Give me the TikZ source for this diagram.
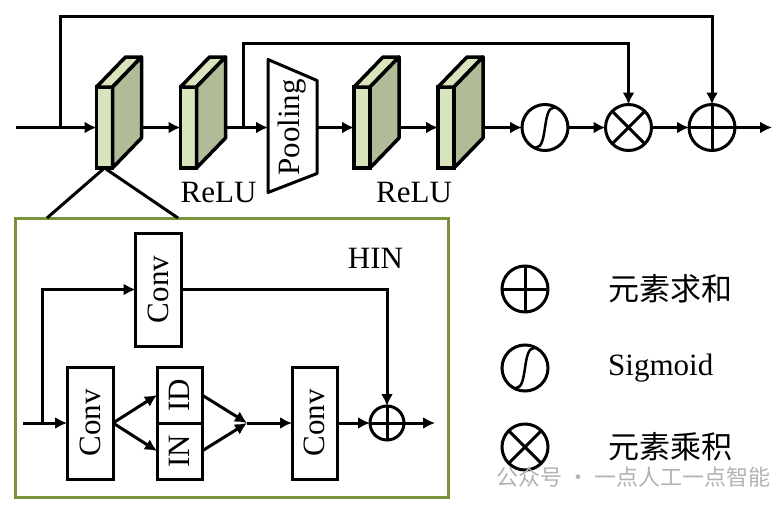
\documentclass[tikz,border=0pt]{standalone}
\usepackage{fontspec}
\setmainfont{Liberation Serif}
\newfontfamily\cjk{Noto Sans CJK SC}
\usepackage{tikz}
\usetikzlibrary{arrows.meta, calc}
\definecolor{frontgreen}{HTML}{D8E4BC}
\definecolor{sidegreen}{HTML}{B0BB98}
\definecolor{hingreen}{HTML}{77933C}
\tikzstyle{line} = [draw, line width=3pt, ->]

% Quader: Vorderseite als Knoten, Deckel und Seite dahinter
\newcommand{\slab}[2]{%
  \node[slabfront] (#1) at (#2,127.5) {};
  \filldraw[slabedge, fill=frontgreen] (#1.north west) -- ++(29,-30) -- ++(16,0) -- (#1.north east) -- cycle;
  \filldraw[slabedge, fill=sidegreen] (#1.north east) -- ++(29,-30) -- ++(0,81) -- (#1.south east) -- cycle;
}

\begin{document}
\begin{tikzpicture}[x=1pt, y=-1pt, >={Latex[length=12pt,width=12pt]}, %Voreinstellung
    font=\fontsize{31}{36}\selectfont,
    slabfront/.style={draw, line width=3.5pt, fill=frontgreen, minimum width=16pt, minimum height=81pt, inner sep=0pt, outer sep=0pt},
    slabedge/.style={line width=3.5pt, line join=round},
    box/.style={draw, line width=3pt, fill=white, inner sep=0pt, outer sep=0pt, minimum width=46pt},
    op/.style={draw, circle, line width=3pt, inner sep=0pt, outer sep=0pt, minimum size=#1},
    addop/.style={op=#1, path picture={\draw[line width=3pt] (path picture bounding box.north) -- (path picture bounding box.south) (path picture bounding box.west) -- (path picture bounding box.east);}},
    addop/.default=46pt,
    mulop/.style={op=46pt, path picture={\draw[line width=3pt] (path picture bounding box.north west) -- (path picture bounding box.south east) (path picture bounding box.south west) -- (path picture bounding box.north east);}},
    sigop/.style={op=46pt, path picture={\draw[line width=2.5pt] ($(path picture bounding box.center)+(-24,20)$) -- ($(path picture bounding box.center)+(-9,20)$) .. controls +(12,0) and +(-12,0) .. ($(path picture bounding box.center)+(9,-20)$) -- ($(path picture bounding box.center)+(24,-20)$);}}]
  \useasboundingbox (0,0) rectangle (782,506);
  % Hauptpfad
  \coordinate (in) at (16,127.5);
  \slab{b1}{104.5}
  \slab{b2}{188.5}
  \node[inner sep=0pt, outer sep=0pt, minimum width=49pt] (pool) at (292.5,127.5) {\rotatebox{90}{Pooling}};
  \draw[line width=3pt, line join=round] ($(pool.center)+(-24.5,-68)$) -- ($(pool.center)+(24.5,-47)$) -- ($(pool.center)+(24.5,46)$) -- ($(pool.center)+(-24.5,65)$) -- cycle;
  \slab{b3}{362}
  \slab{b4}{446}
  \node[sigop] (sig) at (545,127.5) {};
  \node[mulop] (mul) at (628.5,127.5) {};
  \node[addop] (add) at (712,127.5) {};
  \coordinate (out) at (772,127.5);
  \coordinate (t1) at (60,127.5);
  \coordinate (t2) at (243,127.5);
  \draw[line] (in) -- (b1.west);
  \draw[line] ($(b1.east)+(29,0)$) -- (b2.west);
  \draw[line] ($(b2.east)+(29,0)$) -- (pool.west);
  \draw[line] (pool.east) -- (b3.west);
  \draw[line] ($(b3.east)+(29,0)$) -- (b4.west);
  \draw[line] ($(b4.east)+(29,0)$) -- (sig.west);
  \draw[line] (sig.east) -- (mul.west);
  \draw[line] (mul.east) -- (add.west);
  \draw[line] (add.east) -- (out);
  % Rueckfuehrungen
  \draw[line] (t1) -- ++(0,-111.5) -| (add.north);
  \draw[line] (t2) -- ++(0,-84.5) -| (mul.north);
  \node (relu1) at (218.5,192) {ReLU};
  \node (relu2) at (414,192) {ReLU};
  % HIN-Block
  \node[draw=hingreen, line width=3pt, minimum width=433pt, minimum height=279pt, inner sep=0pt, outer sep=0pt, anchor=north west] (hin) at (15,218) {};
  \draw[line width=3pt] (b1.south) -- ($(hin.north west)+(32,0)$);
  \draw[line width=3pt] (b1.south) -- ($(hin.north west)+(163,0)$);
  \node (hintitle) at (375.5,258) {HIN};
  \node[box, minimum height=113pt] (conv0) at (158.5,289.5) {\rotatebox{90}{Conv}};
  \node[box, minimum height=112pt] (conv1) at (90,423) {\rotatebox{90}{Conv}};
  \node[box, minimum width=45pt, minimum height=56pt] (idb) at (179.5,395) {\rotatebox{90}{ID}};
  \node[box, minimum width=45pt, minimum height=56pt] (inb) at (179.5,451) {\rotatebox{90}{IN}};
  \node[box, minimum width=45pt, minimum height=112pt] (conv2) at (314.5,423) {\rotatebox{90}{Conv}};
  \node[addop=34pt] (hadd) at (387,423) {};
  \coordinate (hinin) at (23,423);
  \coordinate (split) at (42,423);
  \coordinate (merge) at (247,423);
  \coordinate (hinout) at (435,423);
  \draw[line] (hinin) -- (conv1.west);
  \draw[line] (split) |- (conv0.west);
  \draw[line] (conv0.east) -| (hadd.north);
  \draw[line] (conv1.east) -- (idb.west);
  \draw[line] (conv1.east) -- (inb.west);
  \draw[line] (idb.east) -- (merge);
  \draw[line] (inb.east) -- (merge);
  \draw[line] (merge) -- (conv2.west);
  \draw[line] (conv2.east) -- (hadd.west);
  \draw[line] (hadd.east) -- (hinout);
  % Legende
  \node[addop] (legadd) at (525,289) {};
  \node[sigop] (legsig) at (525,368) {};
  \node[mulop] (legmul) at (525,447) {};
  \node[anchor=west, inner sep=0pt] (txtadd) at (608,289) {\cjk 元素求和};
  \node[anchor=west, inner sep=0pt] (txtsig) at (608,368) {Sigmoid};
  \node[anchor=west, inner sep=0pt] (txtmul) at (608,447) {\cjk 元素乘积};
  \node[anchor=west, inner sep=0pt, text=gray!60, font=\cjk\fontsize{22}{26}\selectfont] (wm) at (496,477) {公众号 · 一点人工一点智能};
\end{tikzpicture}
\end{document}
